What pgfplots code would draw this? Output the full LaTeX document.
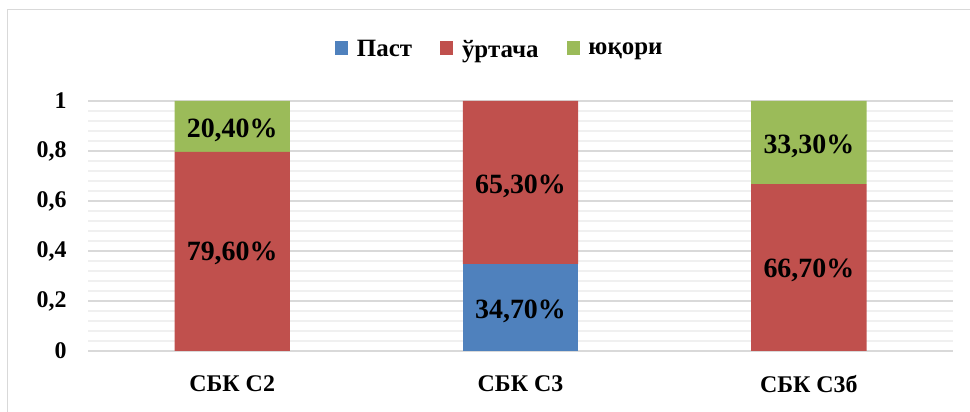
\documentclass[border=0pt]{standalone}
\usepackage{fontspec}
\setmainfont{Liberation Serif}
\usepackage{pgfplots}
\pgfplotsset{compat=1.18}
\definecolor{cBlue}{HTML}{4F81BD}
\definecolor{cRed}{HTML}{C0504D}
\definecolor{cGreen}{HTML}{9BBB59}
\definecolor{gMaj}{HTML}{D9D9D9}
\definecolor{gMin}{HTML}{F0F0F0}
\tikzset{lbl/.style={font=\bfseries\fontsize{28}{32}\selectfont, inner sep=0pt, text=black}}
\begin{document}
\begin{tikzpicture}
\path[use as bounding box] (0,0) rectangle (970bp,412bp);
\draw[gMaj, line width=1.5bp] (7.5bp,0) -- (7.5bp,402.5bp) -- (970bp,402.5bp);
\begin{axis}[
  at={(88bp,61bp)}, anchor=south west,
  scale only axis, width=865bp, height=250bp,
  ybar stacked, bar width=0.4,
  xmin=-0.5, xmax=2.5, ymin=0, ymax=1,
  xtick={0,1,2},
  xticklabels={СБК С2, СБК С3, СБК С3б},
  ytick={0,0.2,0.4,0.6,0.8,1},
  minor y tick num=4,
  ymajorgrids, yminorgrids,
  major grid style={line width=1.6bp, gMaj},
  minor grid style={line width=1.4bp, gMin},
  axis line style={draw=none},
  major tick length=0pt, minor tick length=0pt,
  /pgf/number format/assume math mode=true,
  /pgf/number format/use comma,
  yticklabel style={font=\bfseries\fontsize{24}{27}\selectfont, xshift=-18bp},
  xticklabel style={font=\bfseries\fontsize{24}{28}\selectfont, yshift=-21bp},
  legend columns=3,
  legend style={at={(0.476,1)}, anchor=south, yshift=38bp, draw=none,
    font=\bfseries\fontsize{25}{28}\selectfont,
    /tikz/every odd column/.append style={column sep=7bp},
    /tikz/every even column/.append style={column sep=26bp}},
  legend image code/.code={\fill[#1] (0bp,-6bp) rectangle (13bp,8bp);},
]
\addplot[fill=cBlue, draw=none] coordinates {(0,0) (1,0.347) (2,0)};
\addplot[fill=cRed, draw=none] coordinates {(0,0.796) (1,0.653) (2,0.667)};
\addplot[fill=cGreen, draw=none] coordinates {(0,0.204) (1,0) (2,0.333)};
\legend{Паст, ўртача, юқори}
\coordinate (l1) at (axis cs:0,0.392);
\coordinate (l2) at (axis cs:0,0.884);
\coordinate (l3) at (axis cs:1,0.160);
\coordinate (l4) at (axis cs:1,0.660);
\coordinate (l5) at (axis cs:2,0.322);
\coordinate (l6) at (axis cs:2,0.820);
\end{axis}
\node[lbl] at (l1) {79,60\%};
\node[lbl] at (l2) {20,40\%};
\node[lbl] at (l3) {34,70\%};
\node[lbl] at (l4) {65,30\%};
\node[lbl] at (l5) {66,70\%};
\node[lbl] at (l6) {33,30\%};
\end{tikzpicture}
\end{document}
